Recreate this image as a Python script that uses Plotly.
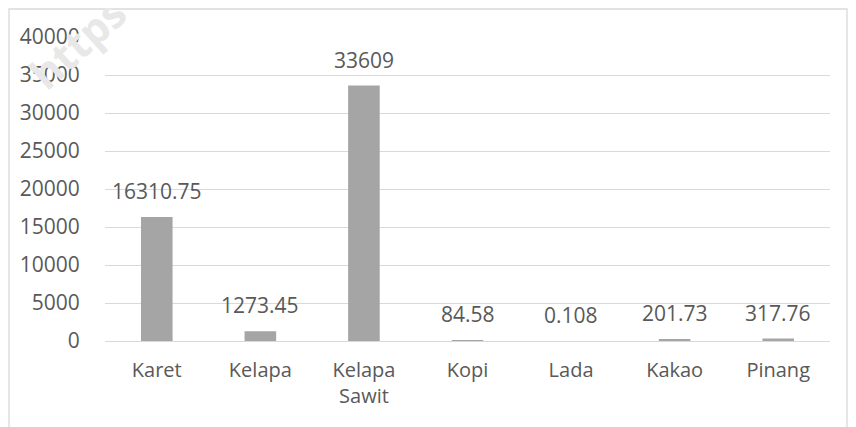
import plotly.graph_objects as go

categories = ["Karet", "Kelapa", "Kelapa<br>Sawit", "Kopi", "Lada", "Kakao", "Pinang"]
values = [16310.75, 1273.45, 33609, 84.58, 0.108, 201.73, 317.76]
value_labels = ["16310.75", "1273.45", "33609", "84.58", "0.108", "201.73", "317.76"]
y_ticks = [0, 5000, 10000, 15000, 20000, 25000, 30000, 35000, 40000]
y_tick_text = ["0", "5000", "10000", "15000", "20000", "25000", "30000", "35000", "40000"]

# page body has an 8px margin, so the figure starts at (8, 8) on screen
OFF = 8
W, H = 856 - OFF, 427 - OFF
# screen plot area: x 105..830, y 37..341
L, T = 105 - OFF, 37 - OFF
B = H - (341 - OFF)
R = W - (830 - OFF)
pw, ph = W - L - R, H - T - B

def px_x(p):
    return (p - OFF - L) / pw

def px_y(p):
    return (H - B - (p - OFF)) / ph

font_family = "Open Sans, Noto Sans, sans-serif"
text_color = "#595959"

fig = go.Figure()
fig.add_trace(go.Bar(
    x=categories, y=values,
    marker=dict(color="#A5A5A5", line=dict(width=0)),
    hoverinfo="skip",
))

for c, v, t in zip(categories, values, value_labels):
    fig.add_annotation(x=c, y=v, text=t, showarrow=False, yanchor="bottom",
                       xanchor="center", yshift=10,
                       font=dict(family=font_family, size=21, color=text_color))

# watermark
fig.add_annotation(xref="paper", yref="paper", x=px_x(77), y=px_y(42), text="<b>https</b>",
                   showarrow=False, textangle=-42, xanchor="center", yanchor="middle",
                   font=dict(family=font_family, size=42, color="#E8E8E8"))

# chart frame
fig.add_shape(type="rect", xref="paper", yref="paper",
              x0=px_x(9), x1=px_x(847), y0=px_y(440), y1=px_y(9),
              line=dict(color="#D9D9D9", width=1.3), fillcolor="rgba(0,0,0,0)", layer="below")

fig.update_layout(
    width=W, height=H,
    margin=dict(l=L, r=R, t=T, b=B),
    paper_bgcolor="white", plot_bgcolor="white",
    bargap=0.695,
    showlegend=False,
    font=dict(family=font_family, size=20, color=text_color),
    xaxis=dict(showgrid=False, showline=False, ticks="outside", ticklen=11,
               tickcolor="rgba(0,0,0,0)", tickfont=dict(size=20, color=text_color)),
    yaxis=dict(range=[0, 40000], tickvals=y_ticks, ticktext=y_tick_text, showgrid=True,
               gridcolor="#D9D9D9", gridwidth=1.3, zeroline=True, zerolinecolor="#D9D9D9",
               zerolinewidth=1.3, showline=False, ticks="outside", ticklen=20,
               tickcolor="rgba(0,0,0,0)", tickfont=dict(size=21, color=text_color)),
)

fig.write_html("out.html")
